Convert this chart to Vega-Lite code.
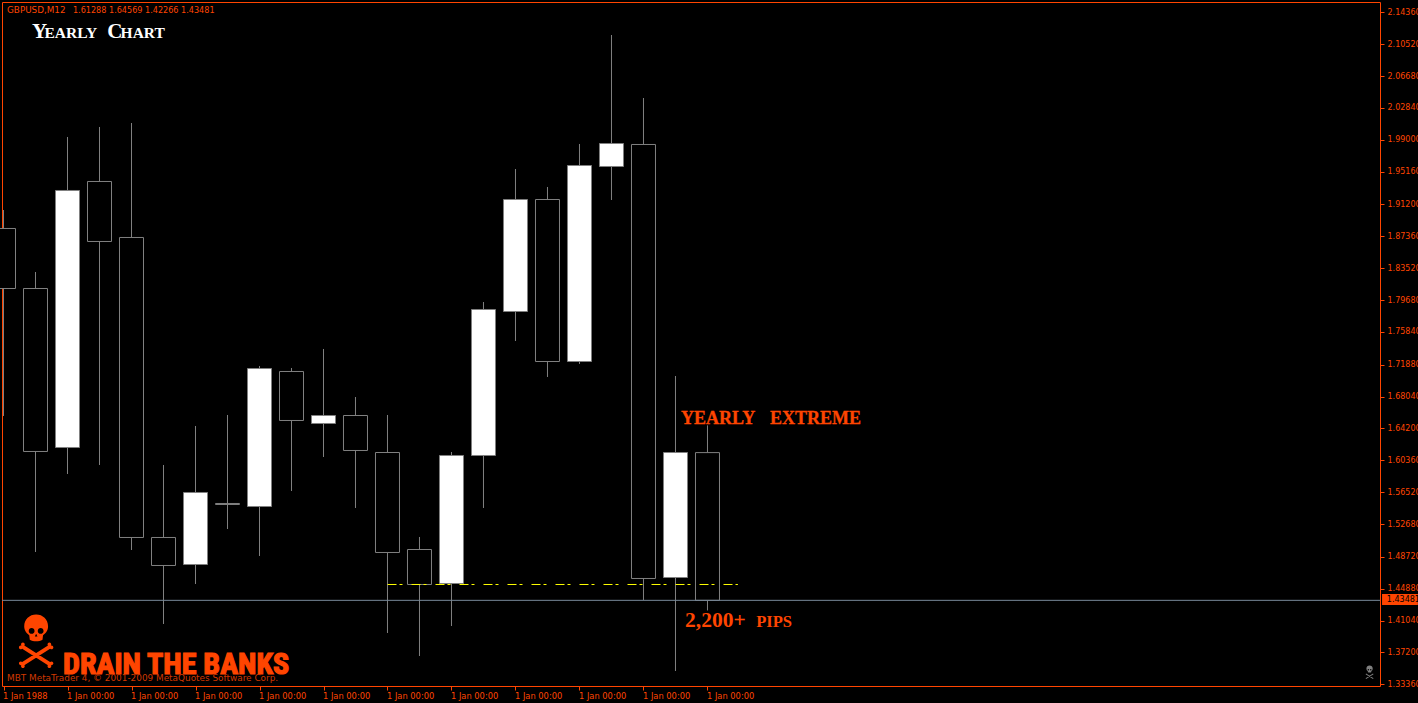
{"$schema":"https://vega.github.io/schema/vega-lite/v6.json","width":1378,"height":684,"autosize":{"type":"none"},"padding":{"left":2,"top":2,"right":38,"bottom":17},"background":"#000000","config":{"view":{"stroke":"#FF4500","strokeWidth":1,"fill":"#000000"},"text":{"font":"DejaVu Sans"}},
"datasets":{"candles":[
{"year":1988,"open":1.88301,"high":1.90530,"low":1.65700,"close":1.81068,"dir":"down"},
{"year":1989,"open":1.81068,"high":1.83057,"low":1.49307,"close":1.61421,"dir":"down"},
{"year":1990,"open":1.61903,"high":1.99330,"low":1.58709,"close":1.92881,"dir":"up"},
{"year":1991,"open":1.93966,"high":2.00535,"low":1.59794,"close":1.86734,"dir":"down"},
{"year":1992,"open":1.87216,"high":2.01017,"low":1.49548,"close":1.51055,"dir":"down"},
{"year":1993,"open":1.51055,"high":1.59794,"low":1.40629,"close":1.47680,"dir":"down"},
{"year":1994,"open":1.47800,"high":1.64495,"low":1.45450,"close":1.56479,"dir":"up"},
{"year":1995,"open":1.55153,"high":1.65821,"low":1.52079,"close":1.55033,"dir":"down"},
{"year":1996,"open":1.54791,"high":1.71727,"low":1.48825,"close":1.71425,"dir":"up"},
{"year":1997,"open":1.71064,"high":1.71486,"low":1.56660,"close":1.65158,"dir":"down"},
{"year":1998,"open":1.64796,"high":1.73776,"low":1.60758,"close":1.65760,"dir":"up"},
{"year":1999,"open":1.65760,"high":1.67990,"low":1.54611,"close":1.61542,"dir":"down"},
{"year":2000,"open":1.61300,"high":1.65821,"low":1.39544,"close":1.49247,"dir":"down"},
{"year":2001,"open":1.49608,"high":1.51115,"low":1.36771,"close":1.45390,"dir":"down"},
{"year":2002,"open":1.45510,"high":1.61361,"low":1.40387,"close":1.60939,"dir":"up"},
{"year":2003,"open":1.60939,"high":1.79441,"low":1.54611,"close":1.78537,"dir":"up"},
{"year":2004,"open":1.78296,"high":1.95472,"low":1.74740,"close":1.91796,"dir":"up"},
{"year":2005,"open":1.91796,"high":1.93303,"low":1.70401,"close":1.72269,"dir":"down"},
{"year":2006,"open":1.72269,"high":1.98486,"low":1.71968,"close":1.95894,"dir":"up"},
{"year":2007,"open":1.95774,"high":2.11624,"low":1.91736,"close":1.98546,"dir":"up"},
{"year":2008,"open":1.98426,"high":2.04030,"low":1.43521,"close":1.46113,"dir":"down"},
{"year":2009,"open":1.46233,"high":1.70521,"low":1.34963,"close":1.61300,"dir":"up"},
{"year":2010,"open":1.61288,"high":1.64569,"low":1.42266,"close":1.43481,"dir":"down"}],
"notes":[
{"kind":"header","label":"GBPUSD,M12","year":1988.11,"price":2.14276},
{"kind":"headerNums","label":"1.61288 1.64569 1.42266 1.43481","year":1990.17,"price":2.14276},
{"kind":"credit","label":"MBT MetaTrader 4, © 2001-2009 MetaQuotes Software Corp.","year":1988.11,"price":1.33757},
{"kind":"titleBig","label":"Y","year":1988.89,"price":2.11263},
{"kind":"titleSmall","label":"EARLY","year":1989.28,"price":2.11263},
{"kind":"titleBig","label":"C","year":1991.24,"price":2.11263},
{"kind":"titleSmall","label":"HART","year":1991.66,"price":2.11263},
{"kind":"extreme","label":"YEARLY","year":2009.17,"price":1.64736},
{"kind":"extreme","label":"EXTREME","year":2011.95,"price":1.64736},
{"kind":"pips","label":"2,200+","year":2009.30,"price":1.40267},
{"kind":"pipsSmall","label":"PIPS","year":2011.52,"price":1.40267},
{"kind":"brand","label":"DRAIN THE BANKS","year":1989.86,"price":1.34600},
{"kind":"skull","label":"skull","year":1989.02,"price":1.38577},
{"kind":"skullSmall","label":"skull","year":2030.69,"price":1.34781}]},
"data":{"name":"notes"},
"encoding":{
 "x":{"field":"year","type":"quantitative","title":null,"scale":{"domain":[1987.953,2031.016],"nice":false,"zero":false,"padding":0},
  "axis":{"values":[1988,1990,1992,1994,1996,1998,2000,2002,2004,2006,2008,2010],"labelExpr":"datum.value==1988?'1 Jan 1988':'1 Jan 00:00'","grid":false,"domain":false,"tickColor":"#FF4500","tickSize":4,"labelColor":"#FF4500","labelFont":"DejaVu Sans","labelFontSize":8.3,"labelAlign":"left","labelPadding":1,"labelOffset":-1,"labelOverlap":false,"labelBound":false,"labelFlush":false,"title":null}},
 "y":{"field":"price","type":"quantitative","title":null,"scale":{"domain":[1.33155,2.15602],"nice":false,"zero":false},
  "axis":{"orient":"right","values":[1.3336,1.372,1.4104,1.4488,1.4872,1.5268,1.5652,1.6036,1.642,1.6804,1.7188,1.7584,1.7968,1.8352,1.8736,1.912,1.9516,1.99,2.0284,2.0668,2.1052,2.1436],"format":".5f","grid":false,"domain":false,"tickColor":"#FF4500","tickSize":4,"labelColor":"#FF4500","labelFont":"DejaVu Sans","labelFontSize":8,"labelPadding":3,"labelOverlap":false,"labelBound":false,"labelFlush":false,"title":null}}},
"layer":[
{"data":{"name":"candles"},"mark":{"type":"rule","color":"#808080","strokeWidth":1},"encoding":{
 "y":{"field":"low","type":"quantitative","title":null,"scale":{"domain":[1.33155,2.15602],"nice":false,"zero":false}},
 "y2":{"field":"high"}}},
{"data":{"name":"candles"},"mark":{"type":"bar","orient":"vertical","size":24,"stroke":"#808080","strokeWidth":1},"encoding":{
 "y":{"field":"open","type":"quantitative","title":null,"scale":{"domain":[1.33155,2.15602],"nice":false,"zero":false}},"y2":{"field":"close"},
 "fill":{"field":"dir","type":"nominal","legend":null,"scale":{"domain":["up","down"],"range":["#FFFFFF","#000000"]}}}},
{"data":{"values":[{"year":2000,"price":1.4539},{"year":2010.95,"price":1.4539}]},"mark":{"type":"line","color":"#FFFF00","strokeWidth":1,"strokeDash":[9,3,3,9]}},
{"data":{"values":[{"year":1987.953,"year2":2031.016,"price":1.43481}]},"mark":{"type":"rule","color":"#778899","strokeWidth":1},"encoding":{"x2":{"field":"year2"}}},
{"data":{"values":[{"year":2031.08,"year2":2032.2,"price":1.44244,"price2":1.42917}]},"mark":{"type":"rect","fill":"#FF4500","stroke":null},"encoding":{"x2":{"field":"year2"},"y2":{"field":"price2"}}},
{"data":{"values":[{"label":"1.43481","year":2031.23,"price":1.43481}]},"mark":{"type":"text","align":"left","baseline":"middle","font":"DejaVu Sans","fontSize":8,"color":"#000000"},"encoding":{"text":{"field":"label"}}},
{"transform":[{"filter":"datum.kind=='header'"}],"mark":{"type":"text","align":"left","baseline":"alphabetic","font":"DejaVu Sans","fontSize":8.8,"color":"#FF4500"},"encoding":{"text":{"field":"label"}}},
{"transform":[{"filter":"datum.kind=='headerNums'"}],"mark":{"type":"text","align":"left","baseline":"alphabetic","font":"DejaVu Sans","fontSize":8.1,"color":"#FF4500"},"encoding":{"text":{"field":"label"}}},
{"transform":[{"filter":"datum.kind=='brand'"}],"mark":{"type":"text","align":"left","baseline":"alphabetic","font":"'Roboto Condensed','Liberation Sans'","fontWeight":"bold","fontSize":30,"color":"#FF4500","stroke":"#FF4500","strokeWidth":1.2},"encoding":{"text":{"field":"label"}}},
{"transform":[{"filter":"datum.kind=='credit'"}],"mark":{"type":"text","align":"left","baseline":"alphabetic","font":"DejaVu Sans","fontSize":8.9,"color":"#D03800"},"encoding":{"text":{"field":"label"}}},
{"transform":[{"filter":"datum.kind=='titleBig'"}],"mark":{"type":"text","align":"left","baseline":"alphabetic","font":"Liberation Serif","fontWeight":"bold","fontSize":21,"color":"#FFFFFF"},"encoding":{"text":{"field":"label"}}},
{"transform":[{"filter":"datum.kind=='titleSmall'"}],"mark":{"type":"text","align":"left","baseline":"alphabetic","font":"Liberation Serif","fontWeight":"bold","fontSize":15.5,"color":"#FFFFFF"},"encoding":{"text":{"field":"label"}}},
{"transform":[{"filter":"datum.kind=='extreme'"}],"mark":{"type":"text","align":"left","baseline":"alphabetic","font":"Liberation Serif","fontWeight":"bold","fontSize":18,"color":"#FF4500","stroke":"#FF4500","strokeWidth":0.3},"encoding":{"text":{"field":"label"}}},
{"transform":[{"filter":"datum.kind=='pips'"}],"mark":{"type":"text","align":"left","baseline":"alphabetic","font":"Liberation Serif","fontWeight":"bold","fontSize":21.5,"color":"#FF4500"},"encoding":{"text":{"field":"label"}}},
{"transform":[{"filter":"datum.kind=='pipsSmall'"}],"mark":{"type":"text","align":"left","baseline":"alphabetic","font":"Liberation Serif","fontWeight":"bold","fontSize":16.5,"color":"#FF4500"},"encoding":{"text":{"field":"label"}}},
{"transform":[{"filter":"datum.kind=='skull'"}],"mark":{"type":"point","filled":true,"opacity":1,"color":"#FF4500","size":2809,"shape":"M-.45 -.55C-.45 -.82 -.25 -1 0 -1C.25 -1 .45 -.82 .45 -.55C.45 -.38 .34 -.28 .26 -.22L.24 -.05C.1 .03 -.1 .03 -.24 -.05L-.26 -.22C-.34 -.28 -.45 -.38 -.45 -.55ZM-.28 -.38A.11 .11 0 1 0 -.06 -.38A.11 .11 0 1 0 -.28 -.38ZM.06 -.38A.11 .11 0 1 0 .28 -.38A.11 .11 0 1 0 .06 -.38ZM0 -.27L-.05 -.17L.05 -.17ZM-.49 .137L.57 .817L.49 .943L-.57 .263ZM.57 .263L-.49 .943L-.57 .817L.49 .137ZM-.57 .13A.07 .07 0 1 1 -.43 .13A.07 .07 0 1 1 -.57 .13ZM-.65 .24A.07 .07 0 1 1 -.51 .24A.07 .07 0 1 1 -.65 .24ZM.43 .95A.07 .07 0 1 1 .57 .95A.07 .07 0 1 1 .43 .95ZM.51 .84A.07 .07 0 1 1 .65 .84A.07 .07 0 1 1 .51 .84ZM.43 .13A.07 .07 0 1 1 .57 .13A.07 .07 0 1 1 .43 .13ZM.51 .24A.07 .07 0 1 1 .65 .24A.07 .07 0 1 1 .51 .24ZM-.57 .95A.07 .07 0 1 1 -.43 .95A.07 .07 0 1 1 -.57 .95ZM-.65 .84A.07 .07 0 1 1 -.51 .84A.07 .07 0 1 1 -.65 .84Z"}},
{"transform":[{"filter":"datum.kind=='skullSmall'"}],"mark":{"type":"point","filled":true,"opacity":1,"color":"#808080","size":196,"shape":"M-.45 -.55C-.45 -.82 -.25 -1 0 -1C.25 -1 .45 -.82 .45 -.55C.45 -.38 .34 -.28 .26 -.22L.24 -.05C.1 .03 -.1 .03 -.24 -.05L-.26 -.22C-.34 -.28 -.45 -.38 -.45 -.55ZM-.28 -.38A.11 .11 0 1 0 -.06 -.38A.11 .11 0 1 0 -.28 -.38ZM.06 -.38A.11 .11 0 1 0 .28 -.38A.11 .11 0 1 0 .06 -.38ZM-.49 .137L.57 .817L.49 .943L-.57 .263ZM.57 .263L-.49 .943L-.57 .817L.49 .137Z"}}
]}
